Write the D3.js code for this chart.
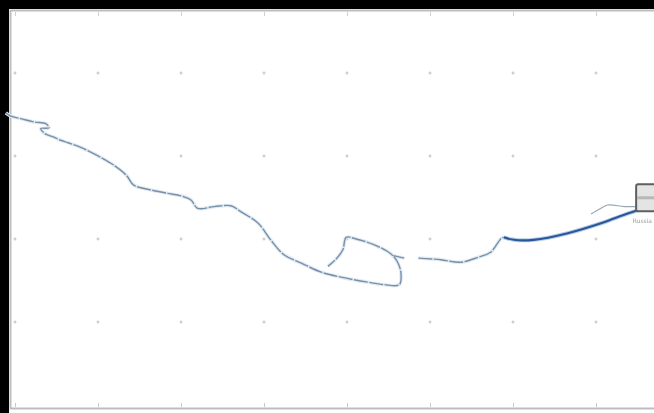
<!DOCTYPE html>
<html>
<head>
<meta charset="utf-8">
<script src="https://d3js.org/d3.v7.min.js"></script>
<style>
  body { margin: 0; background: #000; }
  svg { display: block; }
</style>
</head>
<body>
<svg id="chart" width="654" height="413"></svg>
<script>
// trail of the bubble, in data units (null = gap in the trail)
const trailX = [-0.11, -0.05, 0.07, 0.23, 0.37, 0.41, 0.31, 0.36, 0.46, 0.55, 0.64, 0.80, 1.04, 1.19, 1.34, 1.43,
  1.64, 1.84, 2.00, 2.12, 2.20, 2.40, 2.60, 2.72, 2.93, 3.08, 3.24, 3.45, 3.69, 3.93, 4.25, 4.45, 4.63, 4.65,
  4.61, 4.53, 4.33, 4.11, 3.99, 3.95, 3.87, 3.77, null, 4.56, 4.69, null, 4.86, 5.13, 5.37, 5.58, 5.73, 5.86, 5.89];
const trailY = [3.52, 3.48, 3.45, 3.41, 3.39, 3.34, 3.33, 3.27, 3.23, 3.19, 3.16, 3.10, 2.98, 2.89, 2.77, 2.65,
  2.59, 2.55, 2.52, 2.47, 2.37, 2.39, 2.40, 2.33, 2.19, 1.99, 1.81, 1.71, 1.60, 1.54, 1.48, 1.45, 1.45, 1.59,
  1.72, 1.82, 1.93, 2.00, 2.02, 1.87, 1.76, 1.67, null, 1.80, 1.77, null, 1.77, 1.75, 1.72, 1.78, 1.84, 2.01, 2.02];
// most recent part of the trail (drawn darker)
const recentX = [5.89, 6.01, 6.25, 6.66, 7.06, 7.39, 7.58];
const recentY = [2.02, 1.99, 1.99, 2.07, 2.19, 2.31, 2.37];
// faint earlier pass
const ghostX = [6.94, 7.06, 7.14, 7.34, 7.46, 7.58];
const ghostY = [2.30, 2.37, 2.41, 2.39, 2.39, 2.37];
const xTicks = [0, 1, 2, 3, 4, 5, 6, 7];
const yTicks = [1, 2, 3, 4];
const label = "Russia";

const svg = d3.select("#chart");
const W = 654, H = 413;

const defs = svg.append("defs");
defs.append("filter").attr("id", "soft")
  .append("feGaussianBlur").attr("stdDeviation", 0.6);

svg.append("rect").attr("width", W).attr("height", H).attr("fill", "#000");

const g = svg.append("g").attr("filter", "url(#soft)");

// white stage
g.append("rect").attr("x", 9).attr("y", 9).attr("width", W).attr("height", H)
  .attr("fill", "#fff");
g.append("path")
  .attr("d", `M${W},10.5H10.5V408.5H${W}`)
  .attr("fill", "none").attr("stroke", "#bdbdbd").attr("stroke-width", 2);

const x = d3.scaleLinear().domain([0, 8]).range([15, 679]);
const y = d3.scaleLinear().domain([0, 5]).range([405, -10]);

// axis ticks top and bottom
g.append("g").attr("transform", "translate(0,407)")
  .call(d3.axisBottom(x).tickValues(xTicks).tickSize(-4).tickFormat(""))
  .call(s => s.select(".domain").remove())
  .call(s => s.selectAll("line").attr("stroke", "#c8c8c8"));
g.append("g").attr("transform", "translate(0,12)")
  .call(d3.axisTop(x).tickValues(xTicks).tickSize(-4).tickFormat(""))
  .call(s => s.select(".domain").remove())
  .call(s => s.selectAll("line").attr("stroke", "#d0d0d0"));

// grid marks
const marks = [];
xTicks.forEach(a => yTicks.forEach(b => marks.push([a, b])));
g.append("g").selectAll("path").data(marks).join("path")
  .attr("d", d => `M${x(d[0]) - 1.5},${y(d[1])}h3M${x(d[0])},${y(d[1]) - 1.5}v3`)
  .attr("stroke", "#c4c4c4").attr("stroke-width", 1.2);

const line = d3.line()
  .defined(d => d[0] !== null)
  .x(d => x(d[0])).y(d => y(d[1]))
  .curve(d3.curveCatmullRom);

const trail = trailX.map((v, i) => [v, trailY[i]]);
const recent = recentX.map((v, i) => [v, recentY[i]]);
const ghost = ghostX.map((v, i) => [v, ghostY[i]]);

g.append("path").attr("d", line(ghost)).attr("fill", "none")
  .attr("stroke", "#9aa6b2").attr("stroke-width", 1.2);

g.append("path").attr("d", line(trail)).attr("fill", "none")
  .attr("stroke", "#e0eaf3").attr("stroke-width", 3.5);
g.append("path").attr("d", line(trail)).attr("fill", "none")
  .attr("stroke", "#7890a8").attr("stroke-width", 1.4)
  .attr("stroke-dasharray", "14,1.5");

g.append("path").attr("d", line(recent)).attr("fill", "none")
  .attr("stroke", "#b5cce6").attr("stroke-width", 4);
g.append("path").attr("d", line(recent)).attr("fill", "none")
  .attr("stroke", "#2b569c").attr("stroke-width", 2.1);

// end marker
const ex = x(recentX[recentX.length - 1]), ey = y(recentY[recentY.length - 1]);
g.append("rect").attr("x", ex - 8).attr("y", ey - 24).attr("width", 26).attr("height", 27)
  .attr("rx", 2).attr("fill", "#e4e4e4").attr("stroke", "#5e5e5e").attr("stroke-width", 2);
g.append("rect").attr("x", ex - 7).attr("y", ey - 12).attr("width", 24).attr("height", 3)
  .attr("fill", "#b8b8b8");
g.append("text").attr("x", W - 2).attr("y", ey + 15).attr("text-anchor", "end")
  .attr("font-family", "DejaVu Sans").attr("font-size", 6).attr("fill", "#9a9a9a")
  .text(label);
</script>
</body>
</html>
